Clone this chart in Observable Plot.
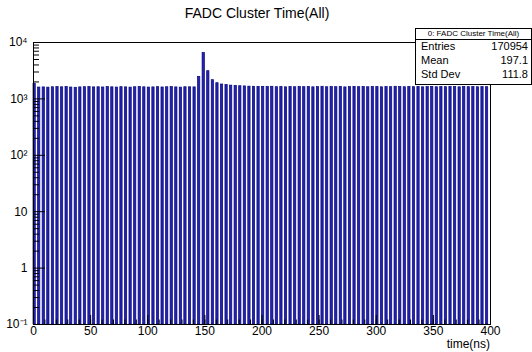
<!DOCTYPE html>
<html><head><meta charset="utf-8">
<script src="https://cdn.jsdelivr.net/npm/d3@7"></script>
<script src="https://cdn.jsdelivr.net/npm/@observablehq/plot@0.6"></script>
<style>
body{margin:0;background:#fff;font-family:"Liberation Sans",Arial,sans-serif;color:#000}
#wrap{position:relative;width:532px;height:352px;overflow:hidden;background:#fff}
#wrap svg{position:absolute;left:0;top:0}
#title{position:absolute;left:0;width:514px;top:5px;text-align:center;font-size:14px;line-height:16px}
#xlabel{position:absolute;right:42px;top:338px;font-size:12px;line-height:13px}
#stats{position:absolute;left:415px;top:28px;width:117px;height:57px;border:1px solid #000;background:#fff;box-sizing:border-box}
#stats .hdr{position:absolute;left:0;right:0;top:0;height:10px;border-bottom:1px solid #000;font-size:8px;line-height:10px;text-align:center}
#stats .row{position:absolute;left:5px;right:3px;font-size:11px;line-height:13px}
#stats .row span{float:right}
</style></head>
<body>
<div id="wrap"></div>
<script>
// bin starts (ns), every 4 ns, bar width 2 ns
const binStart = d3.range(0, 400, 4);
const counts = [
  1860, 1590, 1600, 1585, 1610, 1620, 1605, 1630, 1590, 1575,
  1600, 1615, 1625, 1600, 1610, 1595, 1620, 1605, 1590, 1615,
  1600, 1585, 1610, 1625, 1605, 1590, 1600, 1615, 1595, 1610,
  1620, 1600, 1585, 1610, 1605, 1600, 2450, 6500, 3100, 2150,
  1900, 1800, 1760, 1720, 1700, 1680, 1665, 1650, 1640, 1635,
  1630, 1625, 1640, 1615, 1625, 1605, 1620, 1610, 1630, 1615,
  1625, 1605, 1620, 1640, 1610, 1625, 1615, 1630, 1600, 1620,
  1635, 1615, 1625, 1610, 1630, 1620, 1605, 1625, 1615, 1640,
  1620, 1610, 1630, 1615, 1625, 1605, 1620, 1635, 1610, 1625,
  1615, 1630, 1620, 1605, 1625, 1615, 1630, 1610, 1620, 1615
];
const xMajor = [0, 50, 100, 150, 200, 250, 300, 350, 400];
const xMinor = d3.range(0, 401, 10);
const yMajor = [0.1, 1, 10, 100, 1000, 10000];
const yTickLabels = ["10\u207B\u00B9", "1", "10", "10\u00B2", "10\u00B3", "10\u2074"];
const yMinor = [];
for (const d of [0.1, 1, 10, 100, 1000]) for (let k = 2; k <= 9; k++) yMinor.push(d * k);
const titleText = "FADC Cluster Time(All)";
const statsName = "0: FADC Cluster Time(All)";
const statsLabels = ["Entries", "Mean", "Std Dev"];
const statsValues = ["170954", "197.1", "111.8"];

const bins = binStart.map((t, i) => ({t0: t, t1: t + 2, count: counts[i]}));

const W = 532, H = 352, mL = 33, mR = 42, mT = 42, mB = 28;
const pw = W - mL - mR, ph = H - mT - mB;

const chart = Plot.plot({
  width: W, height: H,
  marginLeft: mL, marginRight: mR, marginTop: mT, marginBottom: mB,
  style: {fontFamily: "'Liberation Sans', Arial, sans-serif", fontSize: "12px", color: "#000", background: "transparent", overflow: "visible"},
  x: {domain: [0, 400]},
  y: {type: "log", domain: [0.1, 10000]},
  marks: [
    Plot.rectY(bins, {x1: "t0", x2: "t1", y1: 0.1, y2: "count", fill: "#2323ad", stroke: "#05057e", strokeWidth: 0.7}),
    Plot.ruleX(xMinor, {insetTop: ph - 4.5, stroke: "#000"}),
    Plot.ruleX(xMajor, {insetTop: ph - 9, stroke: "#000"}),
    Plot.ruleY(yMinor, {insetRight: pw - 6, stroke: "#000"}),
    Plot.ruleY(yMajor, {insetRight: pw - 12, stroke: "#000"}),
    Plot.axisX({ticks: xMajor, tickSize: 0, tickPadding: 2, label: null, fontSize: 12}),
    Plot.axisY({ticks: yMajor, tickSize: 0, tickPadding: 6, label: null, fontSize: 12,
      tickFormat: d => yTickLabels[yMajor.indexOf(d)]}),
    Plot.frame({stroke: "#000"})
  ]
});

const wrap = document.getElementById("wrap");
wrap.appendChild(chart);
const t = document.createElement("div"); t.id = "title"; t.textContent = titleText; wrap.appendChild(t);
const xl = document.createElement("div"); xl.id = "xlabel"; xl.textContent = "time(ns)"; wrap.appendChild(xl);
const st = document.createElement("div"); st.id = "stats";
const hdr = document.createElement("div"); hdr.className = "hdr"; hdr.textContent = statsName; st.appendChild(hdr);
statsLabels.forEach((lab, i) => {
  const r = document.createElement("div"); r.className = "row";
  r.style.top = (11 + i * 14) + "px";
  r.textContent = lab;
  const s = document.createElement("span"); s.textContent = statsValues[i]; r.appendChild(s);
  st.appendChild(r);
});
wrap.appendChild(st);
</script>
</body></html>
